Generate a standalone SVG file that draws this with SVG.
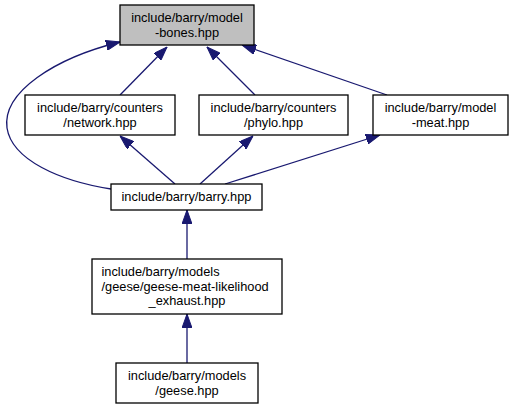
<svg xmlns="http://www.w3.org/2000/svg" width="513" height="409" viewBox="0 0 513 409">
<style>
.node rect{fill:#ffffff;stroke:#000000;stroke-width:1.3}
.node text{font-family:"Liberation Sans",Arial,Helvetica,sans-serif;font-size:12.8px;fill:#000000;text-anchor:middle}
.node text.l{text-anchor:start}
#edges path{fill:none;stroke:#191970;stroke-width:1.3;marker-end:url(#arr)}
</style>
<defs>
<marker id="arr" viewBox="0 0 14 10" refX="14" refY="5" markerWidth="14" markerHeight="10" markerUnits="userSpaceOnUse" orient="auto">
<path d="M0,0 L14,5 L0,10 Z" fill="#191970" stroke="#191970" stroke-width="1"/>
</marker>
</defs>
<rect width="513" height="409" fill="#ffffff"/>
<g id="edges">
<path d="M111,189 C60,181 12,160 7,128 C2,92 55,58 120,42"/>
<path d="M120,95 L167,47"/>
<path d="M255,95 L207,47"/>
<path d="M387,95 L242,45"/>
<path d="M175,184 L120,136"/>
<path d="M200,184 L253,136"/>
<path d="M225,184 L380,135"/>
<path d="M187,259 L187,210"/>
<path d="M187,363 L187,314"/>
</g>
<g id="node-bones" class="node">
<rect x="120" y="5" width="134" height="40" style="fill:#bfbfbf"/>
<text x="187" y="22">include/barry/model</text>
<text x="187" y="36.5">-bones.hpp</text>
</g>
<g id="node-network" class="node">
<rect x="25" y="95" width="150" height="40"/>
<text x="100" y="112">include/barry/counters</text>
<text x="100" y="126.5">/network.hpp</text>
</g>
<g id="node-phylo" class="node">
<rect x="199" y="95" width="149" height="40"/>
<text x="273.5" y="112">include/barry/counters</text>
<text x="273.5" y="126.5">/phylo.hpp</text>
</g>
<g id="node-meat" class="node">
<rect x="373" y="95" width="135" height="40"/>
<text x="440.5" y="112">include/barry/model</text>
<text x="440.5" y="126.5">-meat.hpp</text>
</g>
<g id="node-barry" class="node">
<rect x="111" y="184" width="151" height="26"/>
<text x="186.5" y="201">include/barry/barry.hpp</text>
</g>
<g id="node-geese-meat" class="node">
<rect x="92" y="259" width="190" height="55"/>
<text class="l" x="101.5" y="276">include/barry/models</text>
<text class="l" x="101.5" y="290.5">/geese/geese-meat-likelihood</text>
<text x="187" y="305">_exhaust.hpp</text>
</g>
<g id="node-geese" class="node">
<rect x="116" y="363" width="142" height="40"/>
<text x="187" y="380">include/barry/models</text>
<text x="187" y="394.5">/geese.hpp</text>
</g>
</svg>
